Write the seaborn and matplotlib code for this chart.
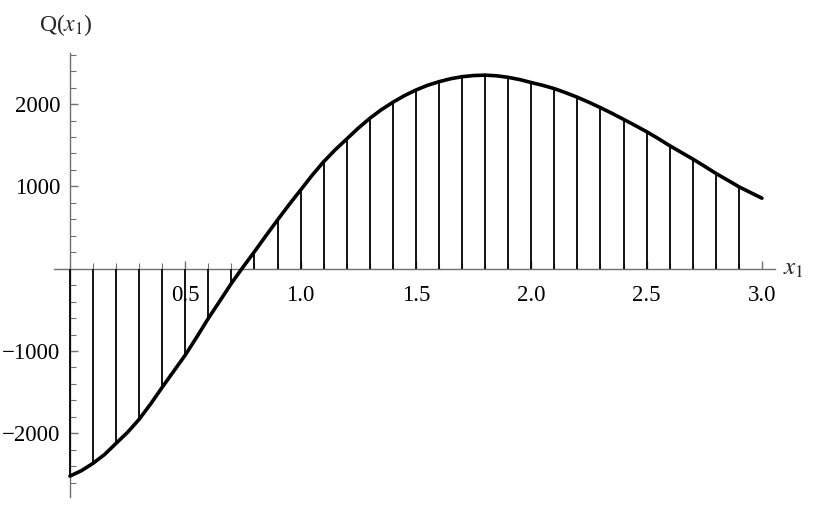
import matplotlib
matplotlib.use("Agg")
import matplotlib.pyplot as plt
import pandas as pd
import seaborn as sns
from matplotlib.ticker import MultipleLocator, FixedLocator

# values of Q(x1) at steps of 0.05
x_vals = [0.0, 0.05, 0.1, 0.15, 0.2, 0.25, 0.3, 0.35, 0.4, 0.45,
          0.5, 0.55, 0.6, 0.65, 0.7, 0.75, 0.8, 0.85, 0.9, 0.95,
          1.0, 1.05, 1.1, 1.15, 1.2, 1.25, 1.3, 1.35, 1.4, 1.45,
          1.5, 1.55, 1.6, 1.65, 1.7, 1.75, 1.8, 1.85, 1.9, 1.95,
          2.0, 2.05, 2.1, 2.15, 2.2, 2.25, 2.3, 2.35, 2.4, 2.45,
          2.5, 2.55, 2.6, 2.65, 2.7, 2.75, 2.8, 2.85, 2.9, 2.95, 3.0]
q_vals = [-2520, -2454, -2365, -2258, -2122, -1988, -1830, -1643, -1441, -1245,
          -1049, -830, -603, -392, -178, 18, 207, 402, 592, 778,
          956, 1135, 1300, 1445, 1576, 1708, 1827, 1932, 2022, 2103,
          2171, 2228, 2272, 2308, 2333, 2347, 2352, 2344, 2325, 2298,
          2262, 2228, 2188, 2138, 2083, 2022, 1957, 1888, 1815, 1741,
          1665, 1582, 1495, 1414, 1333, 1247, 1159, 1078, 996, 926, 857]
x_ticks = [0.5, 1.0, 1.5, 2.0, 2.5, 3.0]
y_ticks = [-2000, -1000, 1000, 2000]

df = pd.DataFrame({"x": x_vals, "Q": q_vals})
# hatching every 0.1 from 0 to 2.9
hatch = df.iloc[0:59:2]

sns.set_theme(style="white")
plt.rcParams["font.family"] = ["Liberation Serif", "DejaVu Serif"]
plt.rcParams["mathtext.fontset"] = "stix"

fig = plt.figure(figsize=(8.2, 5.3), dpi=100)
ax = fig.add_axes([0.0659, 0.0623, 0.879, 0.8377])

# vertical hatching lines from the axis to the curve
ax.vlines(hatch["x"], 0, hatch["Q"], color="black", linewidth=1.3, zorder=2)
sns.lineplot(data=df, x="x", y="Q", ax=ax, color="black", linewidth=2.6, zorder=3)

ax.set_xlim(-0.069, 3.056)
ax.set_ylim(-2774, 2621)

axis_col = "#707070"
for side in ["top", "right"]:
    ax.spines[side].set_visible(False)
for side in ["left", "bottom"]:
    ax.spines[side].set_position(("data", 0))
    ax.spines[side].set_color(axis_col)
    ax.spines[side].set_linewidth(1.0)
    ax.spines[side].set_zorder(1)

ax.xaxis.set_major_locator(FixedLocator(x_ticks))
ax.xaxis.set_minor_locator(MultipleLocator(0.1))
ax.yaxis.set_major_locator(FixedLocator(y_ticks))
ax.yaxis.set_minor_locator(MultipleLocator(200))
ax.set_xticklabels([f"{t:.1f}" for t in x_ticks])
ax.set_yticklabels([f"\u2212{-t}" if t < 0 else f"{t}" for t in y_ticks])

ax.tick_params(axis="both", which="both", direction="in", color=axis_col,
               labelsize=16.5, labelcolor="black", bottom=True, left=True)
ax.tick_params(axis="both", which="major", length=6, width=1.0)
ax.tick_params(axis="both", which="minor", length=4, width=0.8)
ax.tick_params(axis="x", pad=12)
ax.tick_params(axis="y", pad=7)

ax.set_xlabel("")
ax.set_ylabel("")
ax.text(3.09, 0, r"$x_1$", fontsize=18, ha="left", va="center", clip_on=False)
fig.text(0.048, 0.953, r"Q($x_1$)", fontsize=17, ha="left", va="center")

plt.savefig("out.png", dpi=100)
